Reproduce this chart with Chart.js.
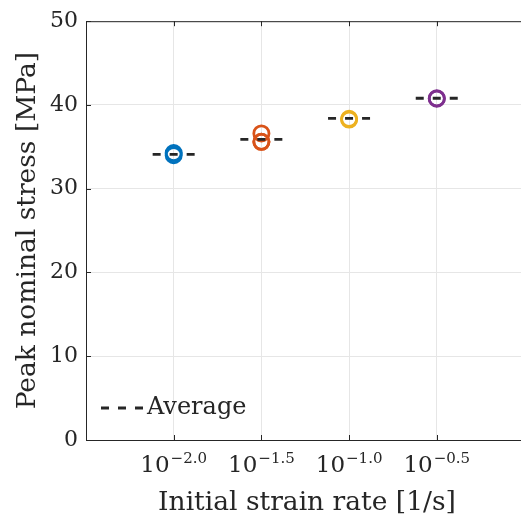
<!DOCTYPE html>
<html>
<head>
<meta charset="utf-8">
<script src="https://cdn.jsdelivr.net/npm/chart.js@4"></script>
<style>
  html, body { margin: 0; padding: 0; background: #fff; overflow: hidden; }
  #wrap { width: 528px; height: 523px; }
</style>
</head>
<body>
<div id="wrap"><canvas id="c" width="528" height="523"></canvas></div>
<script>
// ---- data (x = log10 of strain rate) ----
const rateExponents = [-2.0, -1.5, -1.0, -0.5];
const tickExponents = [-2.0, -1.5, -1.0, -0.5];
const tickLabels = ["\u22122.0", "\u22121.5", "\u22121.0", "\u22120.5"];
const yTicks = [0, 10, 20, 30, 40, 50];
const seriesColors = ["#0072BD", "#D95319", "#EDB120", "#7E2F8E"];
const stressBlue   = [34.25, 34.0];
const stressOrange = [36.6, 35.6, 35.6];
const stressYellow = [38.35, 38.25];
const stressPurple = [40.8, 40.75];
const averages = [34.1, 35.9, 38.4, 40.8];
const avgHalfWidth = 0.12;
const xTitle = "Initial strain rate [1/s]";
const yTitle = "Peak nominal stress [MPa]";
const legendLabel = "Average";

const FONT = "'DejaVu Serif', serif";
const TEXT = "#262626";
const groups = [stressBlue, stressOrange, stressYellow, stressPurple];

const datasets = [];
groups.forEach((vals, i) => {
  datasets.push({
    type: 'scatter',
    label: 'g' + i,
    data: vals.map(v => ({x: rateExponents[i], y: v})),
    pointStyle: 'circle',
    pointRadius: 7.6,
    pointHoverRadius: 7.6,
    pointBorderWidth: 2.8,
    pointBorderColor: seriesColors[i],
    pointBackgroundColor: 'rgba(0,0,0,0)',
    showLine: false,
    order: 2
  });
});
averages.forEach((a, i) => {
  datasets.push({
    type: 'line',
    label: legendLabel,
    data: [{x: rateExponents[i] - avgHalfWidth, y: a}, {x: rateExponents[i] + avgHalfWidth, y: a}],
    borderColor: TEXT,
    borderWidth: 2.8,
    borderDash: [8, 9],
    borderCapStyle: 'butt',
    pointRadius: 0,
    fill: false,
    order: 1
  });
});

const decor = {
  id: 'decor',
  afterDraw(chart) {
    const {ctx, chartArea: ca, scales} = chart;
    const xs = scales.x, ys = scales.y;
    ctx.save();
    // box
    ctx.strokeStyle = TEXT;
    ctx.lineWidth = 1;
    ctx.beginPath();
    ctx.moveTo(ca.left + 0.5, ca.bottom + 0.5);
    ctx.lineTo(ca.left + 0.5, ca.top + 0.5);
    ctx.lineTo(ca.right + 0.5, ca.top + 0.5);
    ctx.lineTo(ca.right + 0.5, ca.bottom + 0.5);
    ctx.lineTo(ca.left + 0.5, ca.bottom + 0.5);
    ctx.stroke();
    // inward ticks
    const tl = 5;
    ctx.beginPath();
    tickExponents.forEach(t => {
      const px = Math.round(xs.getPixelForValue(t)) + 0.5;
      ctx.moveTo(px, ca.bottom); ctx.lineTo(px, ca.bottom - tl);
      ctx.moveTo(px, ca.top); ctx.lineTo(px, ca.top + tl);
    });
    yTicks.forEach(t => {
      const py = Math.round(ys.getPixelForValue(t)) + 0.5;
      ctx.moveTo(ca.left, py); ctx.lineTo(ca.left + tl, py);
      ctx.moveTo(ca.right, py); ctx.lineTo(ca.right - tl, py);
    });
    ctx.stroke();
    // x tick labels with superscript exponents
    ctx.fillStyle = TEXT;
    ctx.textBaseline = 'alphabetic';
    ctx.textAlign = 'left';
    tickExponents.forEach((t, i) => {
      const px = xs.getPixelForValue(t);
      ctx.font = "23px " + FONT;
      const wb = ctx.measureText("10").width;
      ctx.font = "15px " + FONT;
      const we = ctx.measureText(tickLabels[i]).width;
      const x0 = px - (wb + 1 + we) / 2;
      ctx.font = "23px " + FONT;
      ctx.fillText("10", x0, 472);
      ctx.font = "15px " + FONT;
      ctx.fillText(tickLabels[i], x0 + wb + 1, 463);
    });
    // legend
    ctx.strokeStyle = TEXT;
    ctx.lineWidth = 2.8;
    ctx.setLineDash([8, 9]);
    ctx.lineCap = 'butt';
    ctx.beginPath();
    ctx.moveTo(101, 408); ctx.lineTo(143, 408);
    ctx.stroke();
    ctx.setLineDash([]);
    ctx.font = "24px " + FONT;
    ctx.textBaseline = 'middle';
    ctx.fillText(legendLabel, 147, 408);
    ctx.restore();
  }
};

new Chart(document.getElementById('c'), {
  type: 'scatter',
  data: { datasets },
  options: {
    responsive: false,
    animation: false,
    devicePixelRatio: 1,
    layout: { autoPadding: false, padding: { top: 21, right: 0, left: 0, bottom: 0 } },
    plugins: { legend: { display: false }, tooltip: { enabled: false } },
    scales: {
      x: {
        type: 'linear',
        min: -2.5, max: 0.02,
        afterBuildTicks: s => { s.ticks = tickExponents.map(v => ({value: v})); },
        afterFit: s => { s.height = 83; },
        ticks: { display: false },
        grid: { color: '#e6e6e6', drawTicks: false },
        border: { display: false },
        title: { display: true, text: xTitle, color: TEXT,
                 font: { family: FONT, size: 26.5, lineHeight: 1.2 }, padding: { top: 0, bottom: 4 } }
      },
      y: {
        type: 'linear',
        min: 0, max: 50,
        afterBuildTicks: s => { s.ticks = yTicks.map(v => ({value: v})); },
        afterFit: s => { s.width = 86; },
        ticks: { color: TEXT, font: { family: FONT, size: 22 }, padding: 8 },
        grid: { color: '#e6e6e6', drawTicks: false },
        border: { display: false },
        title: { display: true, text: yTitle, color: TEXT,
                 font: { family: FONT, size: 26.5, lineHeight: 1.2 }, padding: { top: 12, bottom: 0 } }
      }
    }
  },
  plugins: [decor]
});
</script>
</body>
</html>
